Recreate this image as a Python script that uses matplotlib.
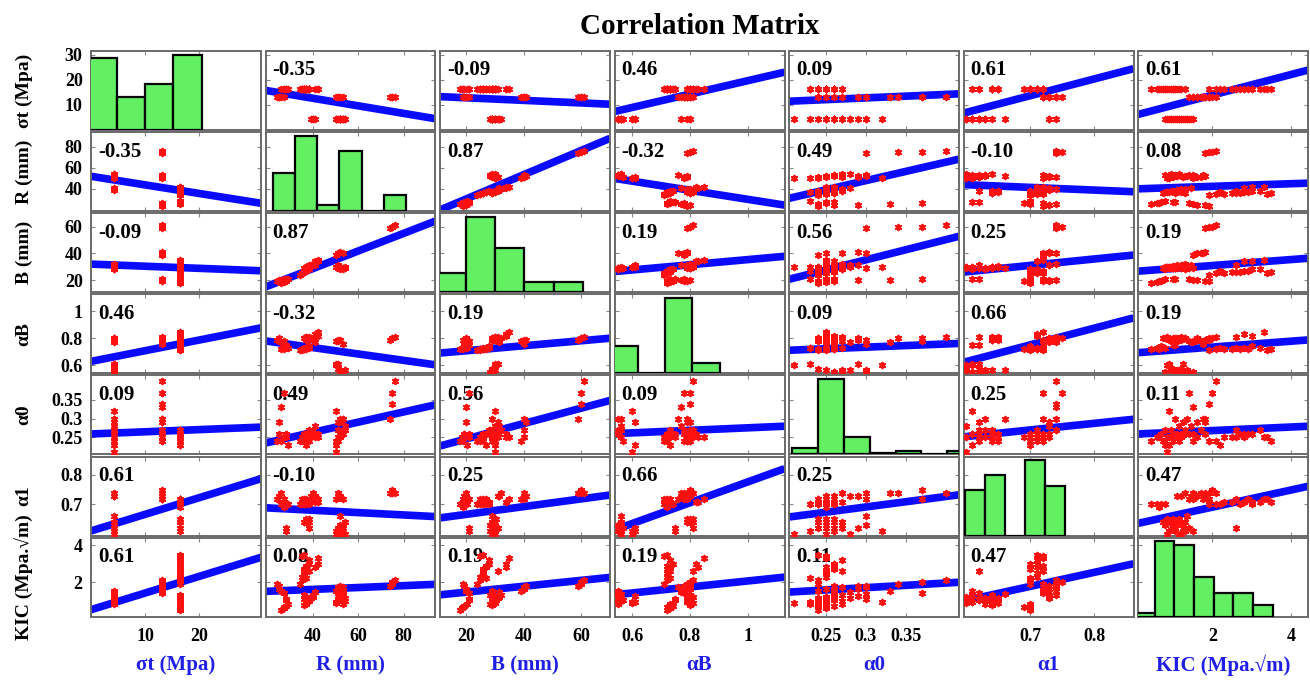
import numpy as np
import matplotlib
matplotlib.use("Agg")
import matplotlib.pyplot as plt

plt.rcParams['font.family'] = ['Liberation Serif', 'DejaVu Serif']
plt.rcParams['font.weight'] = 'bold'

# ---------------- data ----------------
var_names = ["σt (Mpa)", "R (mm)", "B (mm)", "αB", "α0", "α1", "KIC (Mpa.√m)"]

sigma_t = [4.2, 4.2, 4.2, 4.2, 4.2, 4.2, 4.2, 4.2, 4.2, 4.2, 4.2, 4.2, 4.2, 4.2, 4.2,
           4.2, 4.2, 4.2, 4.2,
           13.2, 13.2, 13.2, 13.2, 13.2,
           13.2, 13.2, 13.2, 13.2, 13.2,
           13.2, 13.2, 13.2, 13.2,
           16.4, 16.4, 16.4, 16.4, 16.4, 16.4, 16.4, 16.4, 16.4, 16.4, 16.4, 16.4, 16.4,
           16.4, 16.4, 16.4, 16.4, 16.4,
           16.4, 16.4, 16.4,
           16.4, 16.4, 16.4, 16.4, 16.4, 16.4, 16.4, 16.4, 16.4, 16.4, 16.4, 16.4,
           16.4, 16.4]
R_mm = [50, 50, 51, 52, 52, 52, 53, 53, 53, 54, 54, 51, 52, 53, 50,
        39, 40, 40, 41,
        24, 25, 25, 26, 27,
        50, 51, 51, 52, 53,
        74, 75, 75, 76,
        34, 35, 35, 36, 36, 36, 37, 37, 38, 38, 35, 36, 37,
        26, 27, 27, 28, 29,
        41, 42, 42,
        36, 37, 37, 37, 38, 38, 36, 37, 38, 37, 36, 38,
        28, 28]
B_mm = [30, 30, 29, 29, 29, 28.5, 29, 29, 28.5, 29, 30, 31, 29, 29, 30,
        31, 31.5, 32, 31.5,
        19, 19.5, 20, 20, 21,
        39, 40, 40, 41, 40,
        59, 60, 60, 61,
        24, 25, 25, 26, 26, 26, 27, 27, 28, 28, 25, 26, 27,
        18, 18.5, 19, 19.5, 20.5,
        34, 34, 35,
        29, 29.5, 30, 29, 30, 30.5, 29, 29.5, 30, 30, 29, 31,
        21, 21]
alpha_B = [0.60, 0.61, 0.57, 0.56, 0.56, 0.55, 0.55, 0.55, 0.55, 0.56, 0.56, 0.61, 0.56, 0.55, 0.60,
           0.80, 0.79, 0.80, 0.77,
           0.79, 0.78, 0.80, 0.77, 0.78,
           0.78, 0.79, 0.78, 0.79, 0.76,
           0.79, 0.80, 0.80, 0.81,
           0.71, 0.72, 0.72, 0.72, 0.73, 0.72, 0.73, 0.72, 0.74, 0.73, 0.71, 0.72, 0.73,
           0.72, 0.73, 0.72, 0.74, 0.73,
           0.83, 0.82, 0.85,
           0.80, 0.80, 0.81, 0.79, 0.79, 0.80, 0.80, 0.79, 0.79, 0.81, 0.80, 0.81,
           0.75, 0.75]
alpha_0 = [0.21, 0.23, 0.24, 0.25, 0.25, 0.26, 0.26, 0.26, 0.27, 0.27, 0.28, 0.29, 0.30, 0.30, 0.32,
           0.25, 0.26, 0.27, 0.28,
           0.24, 0.26, 0.29, 0.33, 0.37,
           0.24, 0.25, 0.27, 0.29, 0.30,
           0.30, 0.34, 0.37, 0.40,
           0.24, 0.24, 0.25, 0.25, 0.25, 0.26, 0.26, 0.26, 0.26, 0.27, 0.25, 0.24, 0.23,
           0.24, 0.25, 0.25, 0.26, 0.23,
           0.25, 0.26, 0.25,
           0.24, 0.24, 0.25, 0.25, 0.25, 0.26, 0.26, 0.26, 0.24, 0.25, 0.26, 0.27,
           0.25, 0.26]
alpha_1 = [0.60, 0.61, 0.62, 0.63, 0.60, 0.61, 0.62, 0.61, 0.63, 0.64, 0.60, 0.62, 0.66, 0.63, 0.61,
           0.73, 0.73, 0.74, 0.73,
           0.72, 0.73, 0.73, 0.74, 0.72,
           0.72, 0.73, 0.74, 0.73, 0.72,
           0.74, 0.74, 0.75, 0.74,
           0.70, 0.70, 0.71, 0.71, 0.72, 0.70, 0.71, 0.72, 0.70, 0.71, 0.72, 0.71, 0.70,
           0.70, 0.70, 0.69, 0.70, 0.70,
           0.71, 0.71, 0.72,
           0.64, 0.64, 0.65, 0.64, 0.64, 0.65, 0.64, 0.64, 0.65, 0.64, 0.64, 0.62,
           0.62, 0.61]
KIC = [0.85, 0.90, 1.00, 1.10, 1.20, 1.30, 1.40, 1.50, 0.80, 0.95, 1.15, 1.25, 1.35, 1.05, 0.90,
       1.10, 1.20, 1.30, 1.45,
       1.90, 1.80, 1.60, 1.50, 1.40,
       1.50, 1.60, 1.70, 1.80, 1.75,
       1.80, 1.90, 2.00, 2.10,
       1.90, 2.10, 2.30, 2.50, 2.60, 2.70, 2.80, 2.90, 3.00, 3.20, 3.40, 3.50, 2.20,
       0.45, 0.60, 0.65, 0.70, 0.80,
       2.80, 3.00, 3.30,
       0.75, 0.80, 0.85, 0.90, 0.95, 1.00, 1.05, 1.10, 1.15, 1.20, 1.30, 2.60,
       1.00, 1.05]

# correlation coefficients printed in the panels
corr = [[1.00, -0.35, -0.09, 0.46, 0.09, 0.61, 0.61],
        [-0.35, 1.00, 0.87, -0.32, 0.49, -0.10, 0.08],
        [-0.09, 0.87, 1.00, 0.19, 0.56, 0.25, 0.19],
        [0.46, -0.32, 0.19, 1.00, 0.09, 0.66, 0.19],
        [0.09, 0.49, 0.56, 0.09, 1.00, 0.25, 0.11],
        [0.61, -0.10, 0.25, 0.66, 0.25, 1.00, 0.47],
        [0.61, 0.08, 0.19, 0.19, 0.11, 0.47, 1.00]]

# diagonal histograms (bin edges and counts)
hist_edges = [[-0.49, 4.76, 10.0, 15.25, 20.5],
              [22.2, 32.0, 41.8, 51.6, 61.4, 71.2, 81.0],
              [9.7, 19.9, 30.1, 40.3, 50.5, 60.7],
              [0.525, 0.619, 0.714, 0.808, 0.903],
              [0.208, 0.240, 0.272, 0.305, 0.337, 0.369, 0.401, 0.433],
              [0.599, 0.630, 0.661, 0.692, 0.723, 0.754],
              [0.03, 0.53, 1.03, 1.53, 2.03, 2.53, 3.03, 3.53]]
hist_counts = [[22, 10, 14, 23],
               [12, 24, 2, 19, 0, 5],
               [8, 31, 18, 4, 4],
               [16, 0, 44, 6],
               [4, 44, 10, 1, 2, 0, 2],
               [12, 16, 0, 20, 13],
               [1, 19, 18, 10, 6, 6, 3]]

# axis ranges and tick labels
axis_lims = [(0.0, 31.5), (19.0, 94.0), (11.0, 70.0), (0.539, 1.128),
             (0.204, 0.416), (0.596, 0.861), (0.107, 4.43)]
y_tick_vals = [[10, 20, 30], [40, 60, 80], [20, 40, 60], [0.6, 0.8, 1.0],
               [0.25, 0.30, 0.35], [0.7, 0.8], [2, 4]]
y_tick_txt = [["10", "20", "30"], ["40", "60", "80"], ["20", "40", "60"], ["0.6", "0.8", "1"],
              ["0.25", "0.3", "0.35"], ["0.7", "0.8"], ["2", "4"]]
x_tick_vals = [[10, 20], [40, 60, 80], [20, 40, 60], [0.6, 0.8, 1.0],
               [0.25, 0.30, 0.35], [0.7, 0.8], [2, 4]]
x_tick_txt = [["10", "20"], ["40", "60", "80"], ["20", "40", "60"], ["0.6", "0.8", "1"],
              ["0.25", "0.3", "0.35"], ["0.7", "0.8"], ["2", "4"]]

# ---------------- figure ----------------
W, H = 1310, 687
fig = plt.figure(figsize=(W / 100, H / 100), dpi=100)

col_left, col_pitch, panel_w = 91.0, 174.5, 170.0
row_top, row_pitch, panel_h = 51.0, 81.1, 79.0

data = [np.array(v, dtype=float) for v in (sigma_t, R_mm, B_mm, alpha_B, alpha_0, alpha_1, KIC)]
n = len(var_names)

RED = '#ff1010'
BLUE_LINE = '#0a0aff'
GREEN = '#62f062'
LABEL_BLUE = '#1f1fe6'
FRAME = '#6a6a6a'

for i in range(n):
    for j in range(n):
        left = (col_left + j * col_pitch) / W
        bottom = 1 - (row_top + i * row_pitch + panel_h) / H
        ax = fig.add_axes([left, bottom, panel_w / W, panel_h / H])
        ax.set_xlim(axis_lims[j])
        ax.set_ylim(axis_lims[i])
        ax.set_xticks(x_tick_vals[j])
        ax.set_yticks(y_tick_vals[i])
        ax.set_xticklabels(x_tick_txt[j])
        ax.set_yticklabels(y_tick_txt[i])
        ax.tick_params(direction='in', length=3, width=0.8, color='#888888',
                       top=True, right=True, labelsize=13,
                       labelbottom=(i == n - 1), labelleft=(j == 0))
        ax.tick_params(axis='x', pad=8)
        ax.tick_params(axis='y', pad=6)
        for s in ax.spines.values():
            s.set_color(FRAME)
            s.set_linewidth(1.4)

        if i == j:
            tw = ax.twinx()
            counts = hist_counts[i]
            edges = np.array(hist_edges[i])
            tw.set_ylim(0, max(counts) * 1.047)
            tw.set_yticks([])
            for s in tw.spines.values():
                s.set_visible(False)
            tw.bar(edges[:-1], counts, width=np.diff(edges), align='edge',
                   color=GREEN, edgecolor='black', linewidth=1.6)
        else:
            x = data[j]
            y = data[i]
            r = corr[i][j]
            slope = r * y.std() / x.std()
            xs = np.array(axis_lims[j])
            ys = y.mean() + slope * (xs - x.mean())
            ax.plot(xs, ys, color=BLUE_LINE, lw=5.5, solid_capstyle='butt', zorder=2)
            ax.text(0.04, 0.88, f"{r:.2f}", transform=ax.transAxes, ha='left', va='top',
                    fontsize=15, fontweight='bold', color='black', zorder=2.5)
            ax.scatter(x, y, marker=(6, 2, 0), s=16, color=RED, linewidths=1.4, zorder=3)

# row labels (left) and column labels (bottom)
for i in range(n):
    yc = 1 - (row_top + i * row_pitch + panel_h / 2) / H
    fig.text(24 / W, yc, var_names[i], rotation=90, ha='center', va='center',
             fontsize=14, fontweight='bold', color='black')
for j in range(n):
    xc = (col_left + j * col_pitch + panel_w / 2) / W
    fig.text(xc, 1 - 665 / H, var_names[j], ha='center', va='center',
             fontsize=15, fontweight='bold', color=LABEL_BLUE)

fig.text((col_left + 6 * col_pitch + panel_w + col_left) / 2 / W, 1 - 26 / H,
         "Correlation Matrix", ha='center', va='center', fontsize=21, fontweight='bold')

fig.savefig("out.png", dpi=100)
